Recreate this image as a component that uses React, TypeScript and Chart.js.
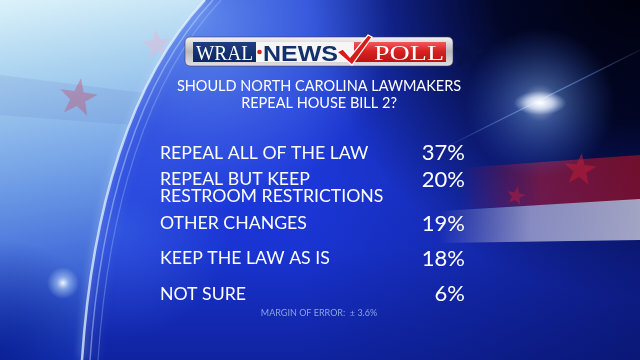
import React, { useEffect, useRef } from "react";
import { Chart, registerables } from "chart.js";
Chart.register(...registerables);

const categories: (string | string[])[] = [
  "REPEAL ALL OF THE LAW",
  ["REPEAL BUT KEEP", "RESTROOM RESTRICTIONS"],
  "OTHER CHANGES",
  "KEEP THE LAW AS IS",
  "NOT SURE",
];
const values = [37, 20, 19, 18, 6];
const titleLines = ["SHOULD NORTH CAROLINA LAWMAKERS", "REPEAL HOUSE BILL 2?"];
const marginNote = "MARGIN OF ERROR:  \u00B1 3.6%";

const FONT = "Lato, 'Open Sans', sans-serif";
const LABEL_SIZE = 17.7;
const LABEL_LH = 0.96;

function star(ctx: CanvasRenderingContext2D, cx: number, cy: number, R: number, rot: number, color: string) {
  ctx.beginPath();
  for (let i = 0; i < 10; i++) {
    const r = i % 2 === 0 ? R : R * 0.4;
    const a = rot + (i * Math.PI) / 5 - Math.PI / 2;
    ctx.lineTo(cx + r * Math.cos(a), cy + r * Math.sin(a));
  }
  ctx.closePath();
  ctx.fillStyle = color;
  ctx.fill();
}

function fitText(ctx: CanvasRenderingContext2D, text: string, x: number, base: number, width: number, font: string, color: string) {
  ctx.font = font;
  const m = ctx.measureText(text).width;
  ctx.save();
  ctx.translate(x, base);
  ctx.scale(width / m, 1);
  ctx.fillStyle = color;
  ctx.textAlign = "left";
  ctx.textBaseline = "alphabetic";
  ctx.fillText(text, 0, 0);
  ctx.restore();
}

function arcPath(ctx: CanvasRenderingContext2D, o: number, cont: boolean) {
  if (cont) ctx.lineTo(205 + o, 0);
  else ctx.moveTo(205 + o, 0);
  ctx.bezierCurveTo(130 + o, 80, 92 + o, 210, 82 + o, 360);
}

function drawBackground(ctx: CanvasRenderingContext2D, w: number, h: number) {
  let g: CanvasGradient = ctx.createLinearGradient(0, 0, 0, h);
  g.addColorStop(0, "#1d3ad2");
  g.addColorStop(0.5, "#1c38da");
  g.addColorStop(1, "#152ec6");
  ctx.fillStyle = g;
  ctx.fillRect(0, 0, w, h);

  g = ctx.createLinearGradient(300, 0, w, 0);
  g.addColorStop(0, "rgba(5,10,70,0)");
  g.addColorStop(1, "rgba(5,10,70,0.5)");
  ctx.fillStyle = g;
  ctx.fillRect(0, 0, w, h);

  let rg = ctx.createRadialGradient(640, -30, 0, 640, -30, 330);
  rg.addColorStop(0, "rgba(0,0,8,1)");
  rg.addColorStop(0.45, "rgba(0,3,25,0.9)");
  rg.addColorStop(1, "rgba(0,5,50,0)");
  ctx.fillStyle = rg;
  ctx.fillRect(0, 0, w, h);

  g = ctx.createLinearGradient(0, 250, 0, h);
  g.addColorStop(0, "rgba(5,15,90,0)");
  g.addColorStop(1, "rgba(5,15,90,0.35)");
  ctx.fillStyle = g;
  ctx.fillRect(0, 0, w, h);

  rg = ctx.createRadialGradient(200, 20, 0, 200, 20, 190);
  rg.addColorStop(0, "rgba(150,200,255,0.55)");
  rg.addColorStop(1, "rgba(140,190,255,0)");
  ctx.fillStyle = rg;
  ctx.fillRect(0, 0, w, h);

  // soft sweep right of the arc
  rg = ctx.createRadialGradient(120, 230, 0, 120, 230, 110);
  rg.addColorStop(0, "rgba(90,140,240,0.35)");
  rg.addColorStop(1, "rgba(90,140,240,0)");
  ctx.fillStyle = rg;
  ctx.fillRect(0, 100, 260, 260);

  // left light panel bounded by arc
  ctx.save();
  ctx.beginPath();
  ctx.moveTo(0, 0);
  arcPath(ctx, 0, true);
  ctx.lineTo(0, 360);
  ctx.closePath();
  g = ctx.createLinearGradient(0, 0, 60, 360);
  g.addColorStop(0, "#dcf2fa");
  g.addColorStop(0.2, "#acd4f0");
  g.addColorStop(0.45, "#7aa8e8");
  g.addColorStop(0.7, "#4a74dc");
  g.addColorStop(1, "#1838bc");
  ctx.fillStyle = g;
  ctx.fill();
  ctx.clip();
  rg = ctx.createRadialGradient(0, 360, 0, 0, 360, 120);
  rg.addColorStop(0, "rgba(5,25,140,0.8)");
  rg.addColorStop(1, "rgba(5,25,140,0)");
  ctx.fillStyle = rg;
  ctx.fillRect(0, 0, 220, 360);
  ctx.fillStyle = "rgba(90,120,200,0.14)";
  ctx.beginPath();
  ctx.moveTo(0, 75);
  ctx.lineTo(200, 100);
  ctx.lineTo(200, 130);
  ctx.lineTo(0, 115);
  ctx.closePath();
  ctx.fill();
  star(ctx, 78, 98, 20, 0.15, "rgba(200,70,100,0.38)");
  star(ctx, 157, 45, 16, -0.1, "rgba(235,180,215,0.45)");
  ctx.restore();

  // arc strokes
  ctx.save();
  ctx.shadowColor = "rgba(200,230,255,0.9)";
  ctx.shadowBlur = 8;
  const arcs: [number, number, string][] = [
    [0, 2.5, "rgba(230,245,255,0.75)"],
    [8, 1.5, "rgba(200,225,255,0.45)"],
    [16, 1.2, "rgba(190,215,255,0.3)"],
  ];
  for (const [o, lw, c] of arcs) {
    ctx.beginPath();
    arcPath(ctx, o, false);
    ctx.strokeStyle = c;
    ctx.lineWidth = lw;
    ctx.stroke();
  }
  ctx.restore();
  rg = ctx.createRadialGradient(63, 283, 0, 63, 283, 16);
  rg.addColorStop(0, "rgba(255,255,255,0.95)");
  rg.addColorStop(0.4, "rgba(200,230,255,0.5)");
  rg.addColorStop(1, "rgba(200,230,255,0)");
  ctx.fillStyle = rg;
  ctx.fillRect(40, 260, 50, 50);

  // right red band
  ctx.beginPath();
  ctx.moveTo(460, 168);
  ctx.lineTo(640, 155);
  ctx.lineTo(640, 200);
  ctx.lineTo(460, 209);
  ctx.closePath();
  g = ctx.createLinearGradient(460, 0, 640, 0);
  g.addColorStop(0, "rgba(150,25,70,0)");
  g.addColorStop(0.45, "rgba(150,25,60,0.7)");
  g.addColorStop(1, "rgba(140,15,40,0.8)");
  ctx.fillStyle = g;
  ctx.fill();
  ctx.beginPath();
  ctx.moveTo(440, 211);
  ctx.lineTo(640, 199);
  ctx.lineTo(640, 240);
  ctx.lineTo(440, 243);
  ctx.closePath();
  g = ctx.createLinearGradient(440, 0, 640, 0);
  g.addColorStop(0, "rgba(190,190,230,0)");
  g.addColorStop(0.45, "rgba(185,185,220,0.7)");
  g.addColorStop(1, "rgba(200,200,220,0.8)");
  ctx.fillStyle = g;
  ctx.fill();
  star(ctx, 580, 170, 17, 0.1, "rgba(185,30,55,0.55)");
  star(ctx, 516, 196, 10, 0.2, "rgba(185,30,55,0.5)");
  star(ctx, 468, 54, 18, 0.1, "rgba(8,18,70,0.85)");

  ctx.save();
  g = ctx.createLinearGradient(440, 150, 640, 50);
  g.addColorStop(0, "rgba(120,170,255,0)");
  g.addColorStop(0.5, "rgba(150,190,255,0.7)");
  g.addColorStop(1, "rgba(120,170,255,0.1)");
  ctx.strokeStyle = g;
  ctx.lineWidth = 1.2;
  ctx.beginPath();
  ctx.moveTo(440, 150);
  ctx.lineTo(640, 50);
  ctx.stroke();
  ctx.restore();
  rg = ctx.createRadialGradient(540, 103, 0, 540, 103, 75);
  rg.addColorStop(0, "rgba(255,255,255,0.8)");
  rg.addColorStop(0.25, "rgba(120,170,255,0.45)");
  rg.addColorStop(1, "rgba(60,110,255,0)");
  ctx.fillStyle = rg;
  ctx.fillRect(450, 20, 180, 170);
  ctx.save();
  ctx.translate(540, 103);
  ctx.scale(2.2, 1);
  rg = ctx.createRadialGradient(0, 0, 0, 0, 0, 12);
  rg.addColorStop(0, "rgba(255,255,255,1)");
  rg.addColorStop(0.5, "rgba(230,240,255,0.7)");
  rg.addColorStop(1, "rgba(200,220,255,0)");
  ctx.fillStyle = rg;
  ctx.fillRect(-14, -14, 28, 28);
  ctx.restore();
}

function drawLogo(ctx: CanvasRenderingContext2D) {
  ctx.save();
  let g = ctx.createLinearGradient(0, 37, 0, 66);
  g.addColorStop(0, "#f4f4f4");
  g.addColorStop(0.5, "#b8b8bc");
  g.addColorStop(1, "#e0e0e4");
  ctx.beginPath();
  ctx.roundRect(185, 37, 268, 29, 5);
  ctx.fillStyle = g;
  ctx.fill();
  ctx.strokeStyle = "rgba(60,60,70,0.7)";
  ctx.lineWidth = 0.8;
  ctx.stroke();
  g = ctx.createLinearGradient(0, 42, 0, 62);
  g.addColorStop(0, "#1d3f80");
  g.addColorStop(1, "#0d2660");
  ctx.fillStyle = g;
  ctx.fillRect(193, 42, 63, 20);
  fitText(ctx, "WRAL", 196, 60, 57, "20px 'Liberation Serif', serif", "#ffffff");
  ctx.fillStyle = "#f6f6f6";
  ctx.fillRect(256, 42, 98, 20);
  ctx.beginPath();
  ctx.arc(259.5, 52, 2.3, 0, Math.PI * 2);
  ctx.fillStyle = "#d62020";
  ctx.fill();
  fitText(ctx, "NEWS", 263, 60.5, 75, "bold 22px 'Liberation Sans', sans-serif", "#12306c");
  g = ctx.createLinearGradient(0, 42, 0, 62);
  g.addColorStop(0, "#f05a5a");
  g.addColorStop(0.45, "#d82222");
  g.addColorStop(1, "#b81414");
  ctx.fillStyle = g;
  ctx.fillRect(354, 42, 92, 20);
  fitText(ctx, "POLL", 374, 60, 70, "21px 'Liberation Serif', serif", "#ffffff");
  ctx.beginPath();
  ctx.moveTo(337, 52);
  ctx.lineTo(343, 49);
  ctx.lineTo(350, 57);
  ctx.lineTo(368, 35);
  ctx.lineTo(372, 37);
  ctx.lineTo(352, 65);
  ctx.closePath();
  ctx.fillStyle = "#d81c1c";
  ctx.fill();
  ctx.strokeStyle = "#ffffff";
  ctx.lineWidth = 1.2;
  ctx.stroke();
  ctx.restore();
}

const bgPlugin = {
  id: "tvBackground",
  beforeDraw(chart: any) {
    const ctx = chart.ctx as CanvasRenderingContext2D;
    ctx.save();
    drawBackground(ctx, chart.width, chart.height);
    drawLogo(ctx);
    ctx.restore();
  },
};

const valuePlugin = {
  id: "valueText",
  afterDatasetsDraw(chart: any) {
    const ctx = chart.ctx as CanvasRenderingContext2D;
    const meta = chart.getDatasetMeta(0);
    const right = chart.chartArea.right - 13;
    ctx.save();
    ctx.font = `22px ${FONT}`;
    ctx.fillStyle = "#ffffff";
    ctx.textAlign = "right";
    ctx.textBaseline = "middle";
    meta.data.forEach((bar: any, i: number) => {
      const lab = categories[i];
      const lines = Array.isArray(lab) ? lab.length : 1;
      const y = bar.y - ((lines - 1) * LABEL_SIZE * LABEL_LH) / 2;
      ctx.fillText(`${values[i]}%`, right, y);
    });
    ctx.font = `9px ${FONT}`;
    ctx.fillStyle = "#8aa2ea";
    ctx.textAlign = "center";
    ctx.fillText(marginNote, 319, 313);
    ctx.restore();
  },
};

export default function App() {
  const ref = useRef<HTMLCanvasElement>(null);
  useEffect(() => {
    const canvas = ref.current!;
    const chart = new Chart(canvas, {
      type: "bar",
      data: {
        labels: categories as any,
        datasets: [{ data: values, backgroundColor: "rgba(0,0,0,0)", borderWidth: 0 }],
      },
      options: {
        responsive: false,
        animation: false,
        indexAxis: "y",
        layout: { padding: { top: 70, left: 160, right: 162, bottom: 48.5 } },
        plugins: {
          legend: { display: false },
          tooltip: { enabled: false },
          title: {
            display: true,
            text: titleLines,
            color: "#ffffff",
            font: { family: FONT, size: 14.5, weight: "normal", lineHeight: 1.19 },
            padding: { top: 7.4, bottom: 23.5 },
          },
        },
        scales: {
          x: { display: false, min: 0, max: 100 },
          y: {
            grid: { display: false },
            border: { display: false },
            afterFit(scale: any) {
              scale.width = 240;
            },
            ticks: {
              color: "#ffffff",
              font: { family: FONT, size: LABEL_SIZE, lineHeight: LABEL_LH },
              crossAlign: "far",
              padding: 0,
              autoSkip: false,
            },
          },
        },
      } as any,
      plugins: [bgPlugin, valuePlugin],
    });
    return () => chart.destroy();
  }, []);
  return (
    <canvas
      ref={ref}
      width={640}
      height={360}
      style={{ position: "fixed", left: 0, top: 0, width: 640, height: 360, display: "block" }}
    />
  );
}
